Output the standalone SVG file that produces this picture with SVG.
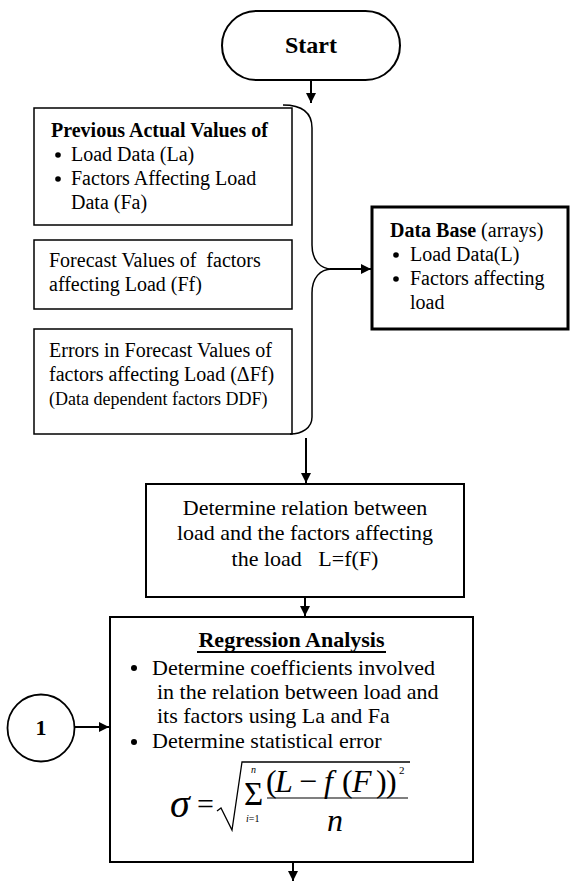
<svg xmlns="http://www.w3.org/2000/svg" width="571" height="881" viewBox="0 0 571 881">
<style>
.t{font-family:"Liberation Serif","Times New Roman",serif;fill:#000}
.s20{font-size:20px}
.s22{font-size:22px}
.b{font-weight:bold}
.box{fill:#fff;stroke:#000}
.con{fill:none;stroke:#000;stroke-width:2}
.mi{font-family:"Liberation Serif","Times New Roman",serif;font-style:italic;fill:#000}
.mr{font-family:"Liberation Serif","Times New Roman",serif;font-style:normal;fill:#000}
</style>
<defs>
<marker id="arr" viewBox="0 0 10 10" refX="10" refY="5" markerWidth="10" markerHeight="10" markerUnits="userSpaceOnUse" orient="auto">
<path d="M0,0 L10,5 L0,10 z" fill="#000"/>
</marker>
</defs>
<rect width="571" height="881" fill="#fff"/>

<g id="start">
<rect class="box" x="222" y="11" width="178" height="69" rx="34.5" ry="34.5" stroke-width="2"/>
<text class="t b" x="311" y="53" font-size="24" text-anchor="middle">Start</text>
</g>

<g id="previous-actual">
<rect class="box" x="34" y="108" width="258" height="117" stroke-width="1.5"/>
<text class="t s20 b" x="51" y="137">Previous Actual Values of</text>
<circle cx="58" cy="155" r="2.8"/>
<text class="t s20" x="71" y="161">Load Data (La)</text>
<circle cx="58" cy="179" r="2.8"/>
<text class="t s20" x="71" y="185">Factors Affecting Load</text>
<text class="t s20" x="71" y="209">Data (Fa)</text>
</g>

<g id="forecast-values">
<rect class="box" x="34" y="240" width="258" height="69" stroke-width="1.5"/>
<text class="t s20" x="49" y="267" xml:space="preserve">Forecast Values of  factors</text>
<text class="t s20" x="49" y="291">affecting Load (Ff)</text>
</g>

<g id="forecast-errors">
<rect class="box" x="34" y="329" width="258" height="105" stroke-width="1.5"/>
<text class="t s20" x="49" y="357">Errors in Forecast Values of</text>
<text class="t s20" x="49" y="381">factors affecting Load (ΔFf)</text>
<text class="t" x="49" y="405" font-size="18">(Data dependent factors DDF)</text>
</g>

<g id="database">
<rect class="box" x="372" y="207" width="196" height="122" stroke-width="3"/>
<text class="t s20" x="390" y="237"><tspan class="b">Data Base</tspan> (arrays)</text>
<circle cx="396" cy="255" r="2.8"/>
<text class="t s20" x="410" y="261">Load Data(L)</text>
<circle cx="396" cy="279" r="2.8"/>
<text class="t s20" x="410" y="285">Factors affecting</text>
<text class="t s20" x="410" y="309">load</text>
</g>

<g id="relation">
<rect class="box" x="146" y="484" width="318" height="113" stroke-width="2"/>
<text class="t s22" x="305" y="515" text-anchor="middle">Determine relation between</text>
<text class="t s22" x="305" y="540" text-anchor="middle">load and the factors affecting</text>
<text class="t s22" x="305" y="566" text-anchor="middle" xml:space="preserve">the load   L=f(F)</text>
</g>

<g id="regression">
<rect class="box" x="110" y="617" width="363" height="245" stroke-width="2"/>
<text class="t s22 b" x="291.5" y="647" text-anchor="middle">Regression Analysis</text>
<line x1="197" y1="652" x2="386" y2="652" stroke="#000" stroke-width="1.8"/>
<circle cx="134" cy="668" r="3"/>
<text class="t s22" x="152" y="675">Determine coefficients involved</text>
<text class="t s22" x="157" y="699">in the relation between load and</text>
<text class="t s22" x="157" y="723">its factors using La and Fa</text>
<circle cx="134" cy="742" r="3"/>
<text class="t s22" x="152" y="748">Determine statistical error</text>
<g id="formula">
<text class="mi" x="170" y="817" font-size="40">σ</text>
<text class="mr" x="197" y="814" font-size="30">=</text>
<path d="M217 811 L221 808 L232 830 L242 762 L410 762" fill="none" stroke="#000" stroke-width="1.3"/>
<text class="mr" x="244" y="805" font-size="33">Σ</text>
<text class="mi" x="251" y="773" font-size="10">n</text>
<text class="mi" x="246" y="822" font-size="10">i<tspan class="mr">=1</tspan></text>
<text y="792" font-size="32"><tspan class="mr" x="266">(</tspan><tspan class="mi" x="275">L</tspan><tspan class="mr" x="299">−</tspan><tspan class="mi" x="324">f</tspan><tspan class="mr" x="342">(</tspan><tspan class="mi" x="352">F</tspan><tspan class="mr" x="376">)</tspan><tspan class="mr" x="386">)</tspan></text>
<text class="mr" x="399" y="774" font-size="11">2</text>
<line x1="267" y1="798" x2="408" y2="798" stroke="#000" stroke-width="1.2"/>
<text class="mi" x="327" y="831" font-size="32">n</text>
</g>
</g>

<g id="connector-1">
<circle class="box" cx="41" cy="728" r="33.5" stroke-width="1.8"/>
<text class="t b" x="41" y="735" font-size="22" text-anchor="middle">1</text>
</g>

<g id="connectors">
<path d="M283 105 C302 105 312 113 312 128 L312 245 C312 260 320 269 332 269 C320 269 312 278 312 293 L312 417 C312 428 302 434 290 434" fill="none" stroke="#000" stroke-width="1.5"/>
<line class="con" x1="311" y1="80" x2="311" y2="103" marker-end="url(#arr)"/>
<line class="con" x1="330" y1="269" x2="371" y2="269" marker-end="url(#arr)"/>
<line class="con" x1="306" y1="438" x2="306" y2="483" marker-end="url(#arr)"/>
<line class="con" x1="305" y1="597" x2="305" y2="616" marker-end="url(#arr)"/>
<line class="con" x1="75" y1="727" x2="109" y2="727" marker-end="url(#arr)"/>
<line class="con" x1="293" y1="862" x2="293" y2="881" marker-end="url(#arr)"/>
</g>
</svg>
